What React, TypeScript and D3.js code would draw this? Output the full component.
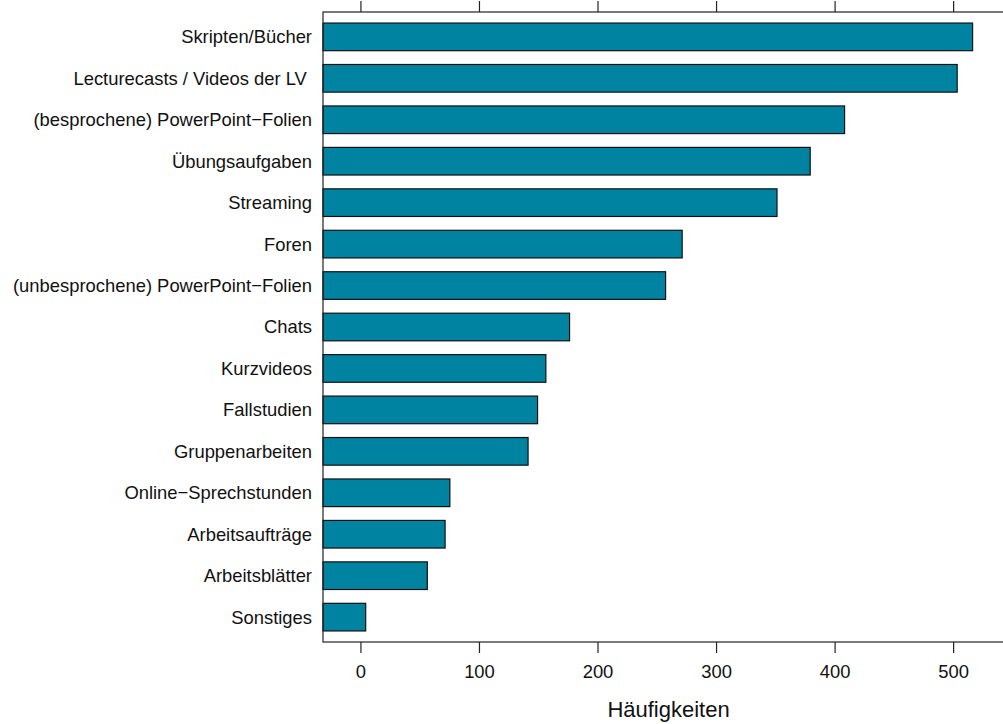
import React from "react";
import * as d3 from "d3";

const categories: string[] = [
  "Skripten/Bücher",
  "Lecturecasts / Videos der LV ",
  "(besprochene) PowerPoint\u2212Folien",
  "Übungsaufgaben",
  "Streaming",
  "Foren",
  "(unbesprochene) PowerPoint\u2212Folien",
  "Chats",
  "Kurzvideos",
  "Fallstudien",
  "Gruppenarbeiten",
  "Online\u2212Sprechstunden",
  "Arbeitsaufträge",
  "Arbeitsblätter",
  "Sonstiges",
];
const counts: number[] = [516, 503, 408, 379, 351, 271, 257, 176, 156, 149, 141, 75, 71, 56, 4];
const tickValues: number[] = [0, 100, 200, 300, 400, 500];
const xTitle = "Häufigkeiten";

const W = 1003;
const H = 724;
const font = "'Liberation Sans', Arial, Helvetica, sans-serif";

export default function App() {
  const panelLeft = 323;
  const panelTop = 12;
  const panelBottom = 642;
  const xMin = -32;
  const xMax = 551;
  const x = d3.scaleLinear().domain([xMin, xMax]).range([panelLeft, panelLeft + (xMax - xMin) * 1.1854]);
  const y = d3
    .scaleBand<string>()
    .domain(categories)
    .range([panelTop, panelBottom])
    .paddingInner(1 / 3)
    .paddingOuter(0.2667);
  const panelRight = x(xMax);
  const tickLen = 11;
  return (
    <svg width={W} height={H} style={{ position: "absolute", left: 0, top: 0, background: "#fff" }} fontFamily={font}>
      {/* bars (drawn from the panel's left edge, as in lattice) */}
      {categories.map((c, i) => (
        <rect
          key={c}
          x={x(xMin)}
          y={y(c)!}
          width={x(counts[i]) - x(xMin)}
          height={y.bandwidth()}
          fill="#0083A1"
          stroke="#111"
          strokeWidth={1.2}
        />
      ))}
      {/* panel border */}
      <rect x={panelLeft} y={panelTop} width={panelRight - panelLeft} height={panelBottom - panelTop} fill="none" stroke="#222" strokeWidth={1.2} />
      {/* ticks */}
      {tickValues.map((t) => (
        <g key={t}>
          <line x1={x(t)} x2={x(t)} y1={panelBottom} y2={panelBottom + tickLen} stroke="#222" strokeWidth={1.2} />
          <line x1={x(t)} x2={x(t)} y1={panelTop} y2={panelTop - tickLen} stroke="#222" strokeWidth={1.2} />
          <text x={x(t)} y={678} textAnchor="middle" fontSize={18.4} fill="#111">
            {t}
          </text>
        </g>
      ))}
      {/* category labels */}
      {categories.map((c) => (
        <text key={c} x={312} y={y(c)! + y.bandwidth() / 2} dy="0.35em" textAnchor="end" fontSize={18.4} fill="#111" style={{ whiteSpace: "pre" }}>
          {c}
        </text>
      ))}
      {/* axis title */}
      <text x={(panelLeft + panelRight) / 2} y={717} textAnchor="middle" fontSize={22} fill="#111">
        {xTitle}
      </text>
    </svg>
  );
}
